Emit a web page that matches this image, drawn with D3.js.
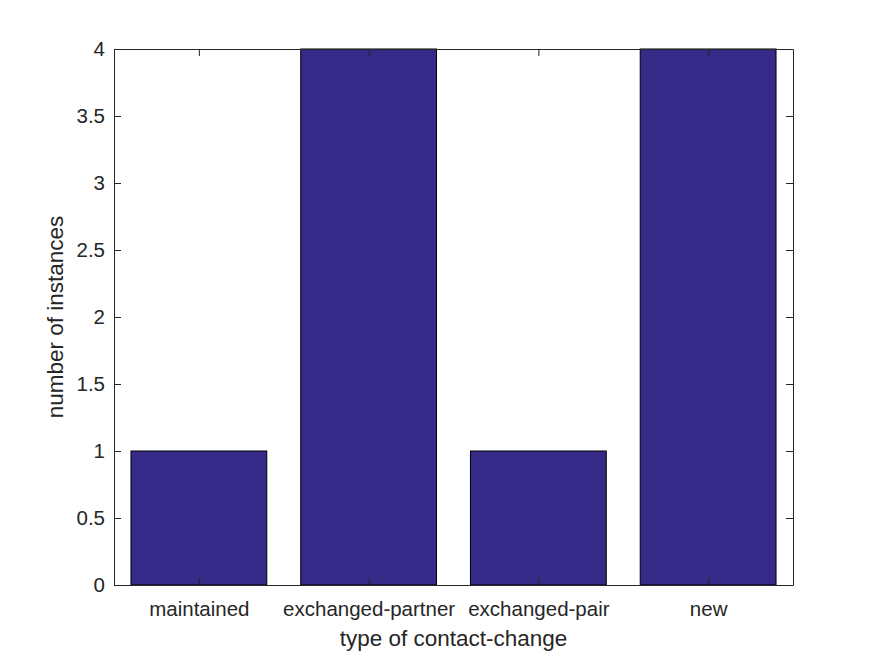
<!DOCTYPE html>
<html>
<head>
<meta charset="utf-8">
<script src="https://d3js.org/d3.v7.min.js"></script>
<style>
body { margin: 0; background: #fff; }
text { font-family: "Liberation Sans", Arial, sans-serif; fill: #262626; }
</style>
</head>
<body>
<div id="chart"></div>
<script>
// chart data
var categories = ["maintained", "exchanged-partner", "exchanged-pair", "new"];
var counts = [1, 4, 1, 4];
var yTicks = [0, 0.5, 1, 1.5, 2, 2.5, 3, 3.5, 4];

var W = 875, H = 656;
var margin = {top: 49, right: 82, bottom: 71, left: 114};
var width = W - margin.left - margin.right;
var height = H - margin.top - margin.bottom;

var svg = d3.select("#chart").append("svg")
  .attr("width", W).attr("height", H)
  .append("g")
  .attr("transform", "translate(" + margin.left + "," + margin.top + ")");

// MATLAB-style: x from 0.5 to 4.5, bar width 0.8
var x = d3.scaleLinear().domain([0.5, categories.length + 0.5]).range([0, width]);
var y = d3.scaleLinear().domain([0, 4]).range([height, 0]);

svg.selectAll("rect.bar")
  .data(counts)
  .enter().append("rect")
  .attr("class", "bar")
  .attr("x", function(d, i) { return x(i + 1 - 0.4); })
  .attr("width", function(d, i) { return x(i + 1.4) - x(i + 0.6); })
  .attr("y", function(d) { return y(d); })
  .attr("height", function(d) { return y(0) - y(d); })
  .attr("fill", "#352a87")
  .attr("stroke", "#000")
  .attr("stroke-width", 1);

var idx = categories.map(function(c, i) { return i + 1; });

var xAxis = d3.axisBottom(x).tickValues(idx)
  .tickFormat(function(d) { return categories[d - 1]; })
  .tickSizeInner(-7).tickSizeOuter(0).tickPadding(16);
var xTop = d3.axisTop(x).tickValues(idx).tickFormat("")
  .tickSizeInner(-7).tickSizeOuter(0);
var yAxis = d3.axisLeft(y).tickValues(yTicks)
  .tickFormat(d3.format("~g"))
  .tickSizeInner(-7).tickSizeOuter(0).tickPadding(9);
var yRight = d3.axisRight(y).tickValues(yTicks).tickFormat("")
  .tickSizeInner(-7).tickSizeOuter(0);

function style(g) {
  g.select(".domain").attr("stroke", "#262626");
  g.selectAll(".tick line").attr("stroke", "#262626");
  g.selectAll(".tick text").style("font-size", "20.5px").attr("fill", "#262626");
}

svg.append("g").attr("transform", "translate(0," + height + ")").call(xAxis).call(style);
svg.append("g").call(xTop).call(style);
svg.append("g").call(yAxis).call(style);
svg.append("g").attr("transform", "translate(" + width + ",0)").call(yRight).call(style);

svg.append("text")
  .attr("x", width / 2).attr("y", height + 61)
  .attr("text-anchor", "middle")
  .style("font-size", "22.5px")
  .text("type of contact-change");

svg.append("text")
  .attr("transform", "rotate(-90)")
  .attr("x", -height / 2).attr("y", -51)
  .attr("text-anchor", "middle")
  .style("font-size", "22.5px")
  .text("number of instances");
</script>
</body>
</html>
